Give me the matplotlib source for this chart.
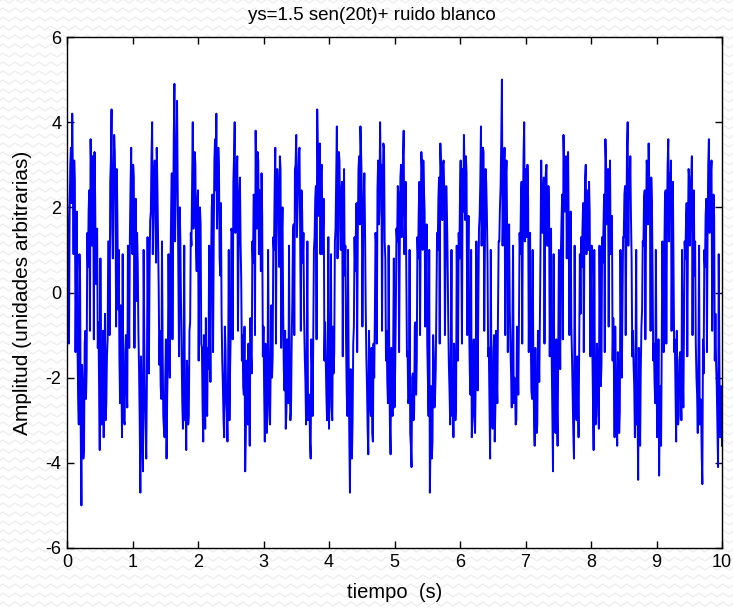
import numpy as np
import matplotlib
matplotlib.use("Agg")
import matplotlib.pyplot as plt
from matplotlib.lines import Line2D

plt.rcParams['font.family'] = ['Liberation Sans', 'DejaVu Sans']
plt.rcParams['axes.unicode_minus'] = False

# muestras pares (t = 0.00, 0.02, ...), una lista por segundo
seg0 = [2.9, -0.6, 1.8, 3.4, 4.2, 0.9, 2.6, 0.4,
        -1.2, -3.1, 0.3, -5.0, -2.2, -3.6, -0.9, -1.8,
        0.6, 2.4, 3.6, 1.1, 2.9, 3.3, 0.2, 1.5,
        -0.7, -3.7, -1.9, -2.8, -3.4, -0.5, -2.6, -1.1,
        1.2, 2.6, 4.3, 0.8, 3.7, 2.1, 2.9, -0.4,
        -1.5, -0.3, -3.4, -2.3, -3.1, -1.0, -2.7, 0.4,
        1.3, 3.4]
seg1 = [0.9, 2.7, 1.6, -0.2, 0.7,
        -1.8, -4.7, -2.4, -4.2, -1.1, -3.3, -2.0, -0.6,
        0.4, 1.9, 4.0, 2.2, 3.1, 0.7, 2.5, 0.1,
        -0.9, -2.5, -1.3, -3.2, -2.0, -3.9, -1.6, -0.8,
        0.6, 2.8, 1.5, 4.9, 2.3, 4.5, 1.0, 2.0,
        -0.2, -2.6, -1.4, -3.0, -3.7, -1.9, -2.9, -0.7,
        1.1, 4.0, 2.1, 3.0, 0.5]
seg2 = [2.4, 0.9, 1.6,
        -1.3, -3.5, -2.1, -0.6, -2.9, -1.8, -0.4,
        0.8, 2.3, 1.2, 3.6, 4.2, 2.5, 3.0, 0.4,
        -0.5, -2.2, -3.4, -1.3, -2.8, -1.7, -3.0, -0.9,
        1.4, 2.6, 4.0, 2.0, 3.2, 1.0, 2.7, 0.3,
        -1.0, -2.4, -4.2, -1.6, -3.1, -2.5, -0.6, -1.9,
        0.7, 2.2, 3.8, 1.5, 3.1, 2.4, 0.5, 1.8]
seg3 = [-0.8, -3.5, -2.0, -2.9, -1.2, -3.1, -0.3, -1.5,
        1.0, 3.4, 1.9, 2.6, 0.6, 2.9, 1.3,
        -0.4, -2.3, -3.2, -1.1, -2.6, -1.9, -2.8, -0.2,
        1.6, 2.9, 3.7, 2.0, 3.3, 1.2, 2.4, 0.7,
        -0.6, -2.1, -1.3, -3.0, -2.4, -3.9, -1.7, -0.9,
        1.3, 2.5, 4.3, 1.8, 3.5, 2.9, 0.9, 2.2,
        -0.7, -2.4, -1.5]
seg4 = [-3.2, -1.8, -2.7, -0.8, -1.4,
        1.5, 3.9, 2.2, 3.1, 1.0, 2.6, 1.7, 0.4,
        -1.1, -2.9, -1.6, -4.7, -2.3, -3.0, -0.8,
        0.5, 2.1, 1.4, 3.2, 3.9, 2.5, 1.2, 2.8,
        -0.3, -2.2, -3.8, -1.7, -2.9, -3.3, -1.2, -0.6,
        1.1, 2.4, 1.6, 4.0, 3.0, 2.2, 3.4, 0.8,
        -0.9, -2.6, -1.5, -3.8, -2.2, -1.3]
seg5 = [-2.7, -0.5,
        1.2, 2.3, 0.9, 3.0, 2.1, 3.8, 1.6, 0.6,
        -1.4, -2.5, -3.3, -4.1, -1.9, -2.8, -0.7, -1.6,
        0.8, 2.6, 1.5, 2.9, 3.1, 1.9, 0.4,
        -1.2, -2.9, -4.7, -2.2, -3.5, -1.5, -2.4, -0.3,
        1.0, 2.7, 3.5, 1.8, 3.0, 2.3, 0.7, 1.9,
        -0.6, -2.3, -1.4, -2.9, -3.4, -1.8, -2.6, -0.4,
        1.4]
seg6 = [2.3, 1.0, 2.9, 3.7, 1.7, 2.8, 0.6,
        -0.8, -2.4, -3.4, -1.6, -2.9, -2.0, -1.1, -0.2,
        1.8, 3.9, 2.4, 3.3, 1.1, 2.6, 0.8,
        -1.3, -3.9, -2.1, -3.2, -1.0, -2.7, -1.9, -0.5,
        1.2, 2.5, 5.0, 2.0, 3.4, 2.7, 1.4, 0.6,
        -0.4, -1.9, -1.0, -2.6, -2.2, -3.0, -1.4, -0.7,
        0.9, 2.6, 1.8, 4.0]
seg7 = [2.9, 1.3, 2.2, 0.5,
        -1.0, -2.5, -1.7, -3.6, -2.8, -3.1, -1.2, -0.6,
        3.1, 1.4, 2.7, 2.2, 3.0, 1.1, 2.0, 0.3,
        -1.5, -4.2, -2.0, -3.3, -2.6, -1.2, -0.4,
        0.9, 2.3, 3.7, 1.9, 3.2, 2.6, 1.5, 0.7,
        -0.8, -2.4, -3.9, -1.8, -3.0, -2.3, -1.1, -0.5,
        0.6, 2.1, 1.4, 3.0, 2.4, 1.0, 1.9]
seg8 = [0.2,
        -1.3, -3.7, -2.1, -2.9, -1.5, -3.2, -0.8, -1.7,
        0.7, 2.3, 3.6, 1.6, 2.9, 2.1, 0.9, 1.8,
        -0.6, -3.4, -2.1, -3.6, -1.9, -2.8, -1.0, -0.3,
        1.3, 2.5, 1.6, 4.0, 2.9, 3.2, 0.8,
        -0.9, -2.2, -1.5, -3.1, -4.4, -2.5, -1.8, -0.4,
        1.1, 2.4, 1.3, 2.9, 3.5, 2.0, 2.7, 0.5,
        -1.2, -2.6]
seg9 = [-1.6, -3.0, -4.3, -2.2, -1.0, -0.3,
        1.0, 2.4, 1.7, 3.6, 2.8, 3.1, 1.2, 0.5,
        -1.1, -3.5, -2.3, -2.9, -1.4, -3.0, -1.9, -0.6,
        0.8, 2.1, 1.3, 2.7, 2.2, 3.2, 1.7, 0.4,
        -1.2, -2.4, -1.5, -3.1, -2.6, -4.5, -1.9,
        0.6, 2.2, 1.4, 3.6, 2.5, 3.1, 1.0, 1.8,
        -0.5, -2.2, -4.1, -1.6, -3.0,
        -3.6]

# muestras impares (t = 0.01, 0.03, ...), una lista por segundo
mid0 = [1.6, -1.2, 3.0, 2.1, 2.7, 3.1, -1.4, 1.9,
        -2.4, 0.9, -3.3, -1.7, -3.9, -1.2, -2.5, 1.4,
        1.9, -0.9, 2.8, 3.2, -1.1, 2.2, 1.0, -1.3,
        -2.3, 0.8, -3.1, -0.9, -2.0, -3.0, -1.5, 1.2,
        -1.0, 3.1, 1.5, 2.4, 3.3, -0.8, 1.7, 1.0,
        -2.6, -1.8, 0.9, -3.0, -1.4, -2.2, 1.1, -1.3,
        2.5, 1.1]
mid1 = [3.0, -1.3, 2.2, 1.4, -0.9,
        -3.0, -1.5, -3.6, 1.0, -2.6, -3.9, 1.3, -1.9,
        1.7, 3.2, 0.9, 2.8, 1.6, 3.4, 1.2, -1.7,
        -2.2, 1.2, -2.9, -3.4, -1.1, -2.4, 0.9, -2.0,
        1.9, -1.1, 3.6, 1.2, 3.1, 2.6, -1.5, 1.3,
        -1.4, -3.2, 1.1, -2.3, -1.6, -3.1, -0.9, 1.4,
        2.6, 1.5, 3.3, 1.0, 2.1]
mid2 = [-1.6, 2.0, -1.2,
        -2.7, -1.0, -3.2, -2.4, -1.3, 1.1, -2.1,
        2.0, -1.4, 3.1, 2.4, 1.5, 3.4, 0.8, 2.1,
        -1.6, -3.0, -0.8, -2.5, -3.5, 1.0, -1.8, 1.5,
        -1.1, 3.2, 1.4, 2.9, -0.9, 2.3, 1.2, -1.6,
        -2.2, -0.8, -3.4, -2.6, -1.2, -3.6, -1.5, 1.2,
        2.3, -1.0, 2.7, 3.3, 0.9, 1.6, 2.8, -1.5]
mid3 = [-2.3, -1.2, -3.3, 1.0, -2.6, -1.6, -2.0, 1.3,
        2.4, -1.2, 2.9, 1.6, 3.2, -1.3, 2.0,
        -1.8, -0.9, -2.8, -2.2, 1.1, -3.0, -1.2, 1.4,
        -1.0, 3.0, 1.3, 2.6, 3.4, -0.9, 1.9, 1.4,
        -1.5, -3.1, 1.2, -2.4, -3.5, -1.1, -2.9, 1.0,
        2.2, -1.1, 3.3, 2.6, 0.9, 3.0, 1.5, -1.6,
        -1.6, -3.0, 1.3]
mid4 = [-2.4, 0.9, -3.0, -1.9, 1.2,
        2.7, 0.8, 3.3, 1.5, 2.4, -1.5, 2.9, 1.1,
        -2.3, 1.0, -3.4, -1.8, -3.9, -1.2, 1.3,
        1.4, -1.4, 2.9, 1.6, 3.3, -0.8, 2.2, 1.5,
        -1.5, -3.2, -0.9, -2.7, -1.3, -3.5, -2.0, 1.4,
        -1.2, 3.1, 1.9, 2.7, -0.9, 3.5, 1.2, -1.6,
        -2.1, 1.1, -3.1, -1.3, -2.9, 0.8]
mid5 = [-1.8, 1.5,
        2.5, -1.4, 2.7, 1.3, 3.2, 0.9, 2.6, -1.5,
        -2.6, 1.0, -3.6, -2.0, -3.0, -0.8, -2.4, 1.3,
        1.9, -1.0, 3.3, 1.0, 2.4, -0.8, 1.6,
        -2.1, 1.0, -3.4, -3.9, -1.0, -2.7, -1.8, 1.4,
        2.2, -1.2, 2.9, 1.7, 3.1, -1.0, 2.5, 0.9,
        -1.7, -3.1, 1.0, -2.4, -1.2, -3.0, 1.1, -1.6,
        0.8]
mid6 = [3.1, -1.2, 1.9, 2.8, 3.2, -1.0, 1.8,
        -1.9, 1.0, -2.9, -1.1, -3.3, 1.2, -2.3, 1.5,
        2.6, 1.1, 3.4, -0.9, 2.9, 1.9, -1.5,
        -2.5, 1.0, -3.1, -1.4, -3.5, -0.9, -2.6, 1.2,
        2.0, 3.6, 1.1, 2.8, -1.0, 3.1, -1.4, 1.6,
        -1.3, -2.7, 1.1, -2.0, -3.1, -0.8, -2.4, 1.4,
        2.1, -1.2, 3.2, 1.2]
mid7 = [1.8, 3.0, -1.4, 1.4,
        -2.3, 1.0, -2.9, -1.3, -3.3, -0.9, -2.1, 1.3,
        1.6, 2.4, -1.2, 2.8, 1.1, 2.5, -1.5, 1.5,
        -2.8, 0.9, -3.2, -1.1, -3.6, 1.0, -1.8,
        1.7, -1.1, 3.0, 2.4, 0.8, 3.3, -1.0, 1.9,
        -1.5, -3.3, 1.1, -2.8, -1.5, -3.4, 0.9, 1.3,
        1.5, -1.4, 2.7, 0.9, 2.2, 2.6, -1.5]
mid8 = [1.1,
        -2.6, 1.0, -3.1, -1.2, -2.5, 1.1, -2.2, 1.3,
        1.5, -1.4, 3.0, 2.4, -0.8, 3.1, 1.4, -1.6,
        -1.8, -0.8, -2.9, -1.4, -3.3, 1.0, -2.0, 1.3,
        2.3, -1.0, 3.4, 1.1, 2.2, 1.8, -1.5,
        -1.7, -3.4, 1.0, -2.6, -1.3, -3.6, -0.8, 1.2,
        2.2, -1.1, 3.1, 1.6, 2.5, -0.9, 2.1, -1.6,
        -2.1, 1.0]
mid9 = [-3.4, -1.1, -2.7, -3.6, 1.2, -1.4,
        2.3, -1.2, 3.0, 1.2, 2.3, -0.9, 2.6, -1.4,
        -2.4, -0.9, -3.1, -1.6, -2.2, 1.0, -2.7, 1.2,
        1.6, -1.5, 2.9, 1.1, 2.6, -1.0, 2.4, 1.2,
        -2.0, -3.3, 1.1, -2.5, -3.8, -1.1, 1.0,
        1.8, -1.4, 3.0, 1.4, 2.8, -0.9, 2.3, -1.6,
        -1.7, -3.2, 0.9, -3.4, -2.2]

even = seg0 + seg1 + seg2 + seg3 + seg4 + seg5 + seg6 + seg7 + seg8 + seg9
odd = mid0 + mid1 + mid2 + mid3 + mid4 + mid5 + mid6 + mid7 + mid8 + mid9
ys = np.empty(len(even) + len(odd))
ys[0::2] = even
ys[1::2] = odd
t = np.linspace(0, 10, len(ys))

xticks = list(range(0, 11))
yticks = [-6, -4, -2, 0, 2, 4, 6]

fig = plt.figure(figsize=(7.33, 6.08), dpi=100)

# fondo con ondas grises claras
W, H = 733, 608
xs = np.arange(0, W + 6, 3.0)
wave = np.array([0, 2, 0, -2] * (len(xs) // 4 + 1))[:len(xs)]
for row in np.arange(4, H, 9):
    fig.add_artist(Line2D(xs / W, (row + wave) / H, color='#ededed',
                          lw=0.9, zorder=0))

ax = fig.add_axes([67 / W, 1 - 548 / H, (722 - 67) / W, (548 - 37) / H])
ax.set_facecolor('white')
ax.set_zorder(2)
ax.plot(t, ys, color='#0000ff', lw=1.4)

ax.set_xlim(0, 10)
ax.set_ylim(-6, 6)
ax.set_xticks(xticks)
ax.set_yticks(yticks)
ax.tick_params(direction='in', top=True, right=True, length=5, width=1,
               labelsize=13, pad=4)
for s in ax.spines.values():
    s.set_linewidth(1.0)

fig.text(372 / W, 1 - 15 / H, 'ys=1.5 sen(20t)+ ruido blanco',
         fontsize=13.5, ha='center', va='center')
ax.set_xlabel('tiempo  (s)', fontsize=14.5, labelpad=9)
ax.set_ylabel('Amplitud (unidades arbitrarias)', fontsize=15, labelpad=10)

fig.savefig('out.png', dpi=100)
